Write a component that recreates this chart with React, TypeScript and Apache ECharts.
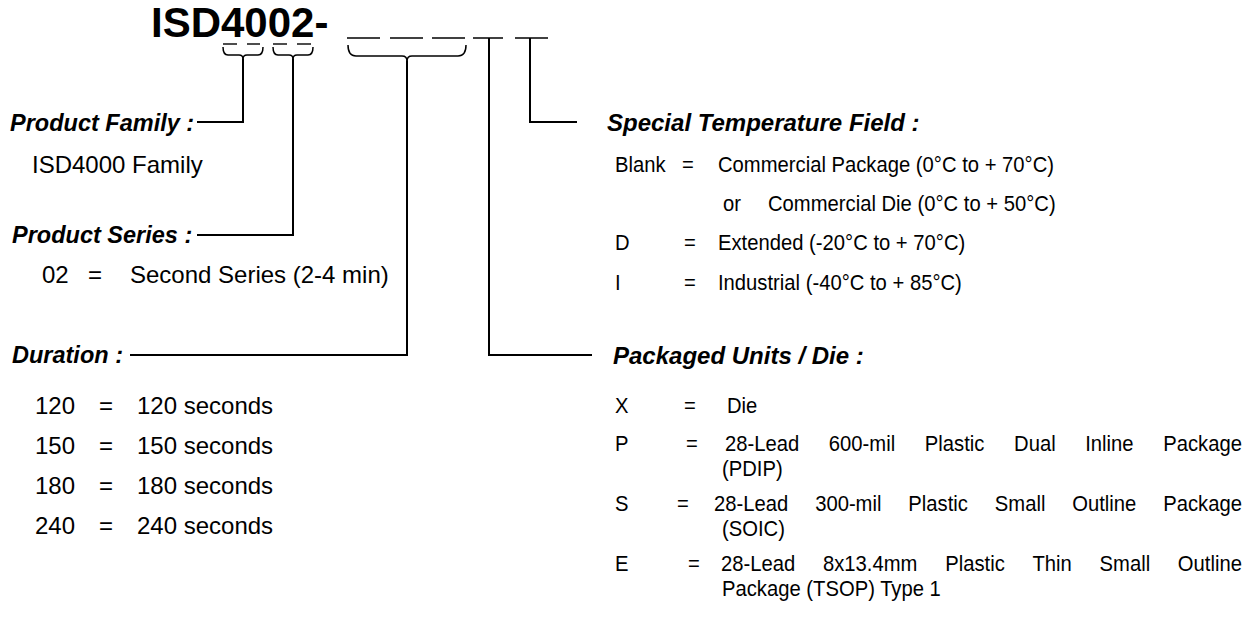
import React, { useEffect, useRef } from "react";
import * as echarts from "echarts";

const PART_PREFIX = "ISD4002-";
const FAMILY_TITLE = "Product Family :";
const FAMILY_VALUE = "ISD4000 Family";
const SERIES_TITLE = "Product Series :";
const SERIES_CODES = ["02"];
const SERIES_LABELS = ["Second Series (2-4 min)"];
const DURATION_TITLE = "Duration :";
const DURATION_CODES = ["120", "150", "180", "240"];
const DURATION_LABELS = ["120 seconds", "150 seconds", "180 seconds", "240 seconds"];
const TEMP_TITLE = "Special Temperature Field :";
const TEMP_CODES = ["Blank", "D", "I"];
const TEMP_LABELS = ["Commercial Package (0°C to + 70°C)", "Extended (-20°C to + 70°C)", "Industrial (-40°C to + 85°C)"];
const TEMP_ALT_PREFIX = "or";
const TEMP_ALT_LABEL = "Commercial Die (0°C to + 50°C)";
const PACKAGE_TITLE = "Packaged Units / Die :";
const PACKAGE_CODES = ["X", "P", "S", "E"];
const PACKAGE_LINE1 = ["Die", "28-Lead 600-mil Plastic Dual Inline Package", "28-Lead 300-mil Plastic Small Outline Package", "28-Lead 8x13.4mm Plastic Thin Small Outline"];
const PACKAGE_LINE2 = ["", "(PDIP)", "(SOIC)", "Package (TSOP) Type 1"];

const FF = "'Liberation Sans', Arial, Helvetica, sans-serif";
const BI = `italic bold 23.5px ${FF}`;
const REG = `24px ${FF}`;
const RREG = `22px ${FF}`;
const RSX = 0.92;

let ctx: CanvasRenderingContext2D | null = null;
function measure(text: string, font: string): number {
  if (!ctx) ctx = document.createElement("canvas").getContext("2d");
  if (!ctx) return text.length * 10;
  ctx.font = font;
  return ctx.measureText(text).width;
}

function txt(text: string, x: number, y: number, font: string): any {
  return { type: "text", x, y, style: { text, font, fill: "#000", align: "left", verticalAlign: "middle" } };
}

function rightLine(text: string, x: number, y: number, justifyTo?: number): any {
  const children: any[] = [];
  if (justifyTo) {
    const words = text.split(" ");
    const ws = words.map((w) => measure(w, RREG));
    const total = ws.reduce((a, b) => a + b, 0);
    const target = (justifyTo - x) / RSX;
    const gap = (target - total) / (words.length - 1);
    let cx = 0;
    words.forEach((w, i) => {
      children.push(txt(w, cx, 0, RREG));
      cx += ws[i] + gap;
    });
  } else {
    children.push(txt(text, 0, 0, RREG));
  }
  return { type: "group", x, y, scaleX: RSX, children };
}

const S = "#000";
function ln(x1: number, y1: number, x2: number, y2: number, w = 1.6): any {
  return { type: "line", shape: { x1, y1, x2, y2 }, style: { stroke: S, lineWidth: w } };
}
function poly(points: number[][], w = 2): any {
  return { type: "polyline", shape: { points }, style: { stroke: S, lineWidth: w, fill: "none" } };
}
function bez(x1: number, y1: number, cx: number, cy: number, x2: number, y2: number, w = 1.5): any {
  return { type: "bezierCurve", shape: { x1, y1, x2, y2, cpx1: cx, cpy1: cy }, style: { stroke: S, lineWidth: w, fill: "none" } };
}
function brace(x1: number, x2: number, top: number, bottom: number, r: number, rc: number): any[] {
  const c = (x1 + x2) / 2;
  return [
    bez(x1, top, x1, bottom, x1 + r, bottom),
    ln(x1 + r, bottom, c - rc, bottom, 1.5),
    bez(c - rc, bottom, c, bottom, c, bottom + rc),
    bez(x2, top, x2, bottom, x2 - r, bottom),
    ln(x2 - r, bottom, c + rc, bottom, 1.5),
    bez(c + rc, bottom, c, bottom, c, bottom + rc),
  ];
}

function buildGraphics(): any[] {
  const g: any[] = [];
  g.push(txt(PART_PREFIX, 151, 22.5, `bold 42px ${FF}`));
  [[223, 237], [247, 260], [273, 287], [297, 311]].forEach(([a, b]) => g.push(ln(a, 44, b, 44, 1.4)));
  [[347, 380], [390, 423], [432, 465], [473, 503], [515, 548]].forEach(([a, b]) => g.push(ln(a, 38, b, 38, 1.5)));
  g.push(...brace(223, 263, 47, 55, 5, 4));
  g.push(...brace(273, 313, 47, 55, 5, 4));
  g.push(...brace(348, 466, 45, 56, 8, 5));
  g.push(poly([[243, 59], [243, 122], [197, 122]]));
  g.push(poly([[293, 59], [293, 235], [197, 235]]));
  g.push(poly([[407, 61], [407, 355], [130, 355]]));
  g.push(poly([[489, 38], [489, 355], [592, 355]]));
  g.push(poly([[530, 38], [530, 122], [577, 122]]));

  g.push(txt(FAMILY_TITLE, 10, 122.5, BI));
  g.push(txt(FAMILY_VALUE, 32, 164, REG));
  g.push(txt(SERIES_TITLE, 12, 235, BI));
  SERIES_CODES.forEach((c, i) => {
    g.push(txt(c, 42, 274 + i * 40, REG));
    g.push(txt("=", 88, 274 + i * 40, REG));
    g.push(txt(SERIES_LABELS[i], 130, 274 + i * 40, REG));
  });
  g.push(txt(DURATION_TITLE, 12, 355, BI));
  DURATION_CODES.forEach((c, i) => {
    const y = 405 + i * 40;
    g.push(txt(c, 35, y, REG));
    g.push(txt("=", 99, y, REG));
    g.push(txt(DURATION_LABELS[i], 137, y, REG));
  });

  g.push(txt(TEMP_TITLE, 607, 122, `italic bold 24px ${FF}`));
  const tempY = [164, 242, 282];
  TEMP_CODES.forEach((c, i) => {
    g.push(rightLine(c, 615, tempY[i]));
    g.push(rightLine("=", i === 0 ? 682 : 684, tempY[i]));
    g.push(rightLine(TEMP_LABELS[i], 718, tempY[i]));
  });
  g.push(rightLine(TEMP_ALT_PREFIX, 723, 203));
  g.push(rightLine(TEMP_ALT_LABEL, 768, 203));

  g.push(txt(PACKAGE_TITLE, 613, 355, `italic bold 24px ${FF}`));
  const pkgY = [405, 443, 503, 563];
  const pkgX = [727, 725, 714, 721];
  PACKAGE_CODES.forEach((c, i) => {
    g.push(rightLine(c, 615, pkgY[i]));
    g.push(rightLine("=", [684, 686, 677, 688][i], pkgY[i]));
    g.push(rightLine(PACKAGE_LINE1[i], pkgX[i], pkgY[i], i > 0 ? 1242 : undefined));
    if (PACKAGE_LINE2[i]) g.push(rightLine(PACKAGE_LINE2[i], 722, pkgY[i] + 25));
  });
  return g;
}

export default function App() {
  const ref = useRef<HTMLDivElement>(null);
  useEffect(() => {
    if (!ref.current) return;
    const chart = echarts.init(ref.current, null, { renderer: "svg" });
    chart.setOption({
      animation: false,
      backgroundColor: "#fff",
      graphic: { elements: buildGraphics() },
    });
    return () => chart.dispose();
  }, []);
  return (
    <div
      ref={ref}
      style={{ position: "fixed", left: 0, top: 0, width: 1256, height: 621, background: "#fff" }}
    />
  );
}
